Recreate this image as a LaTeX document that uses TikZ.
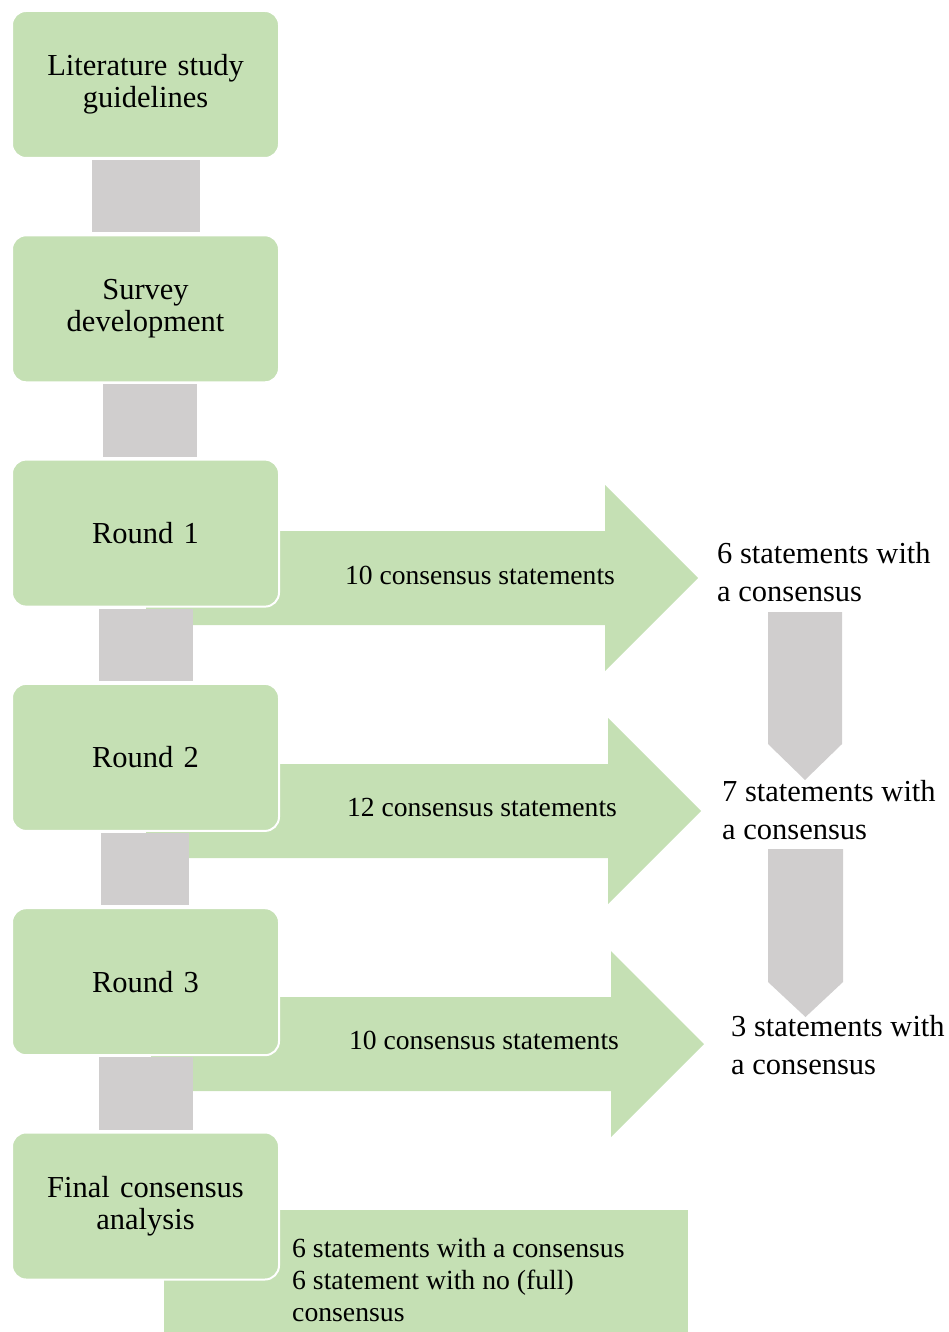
\documentclass[tikz,border=0pt]{standalone}
\usepackage{fontspec}
\setmainfont{Liberation Serif}
\usepackage{xcolor}
\usetikzlibrary{positioning}

\definecolor{leaf}{HTML}{C5E0B4}
\definecolor{ash}{HTML}{D0CECE}

\begin{document}
\begin{tikzpicture}[x=1pt,y=-1pt,node distance=75.3pt]
  \tikzstyle{stage}=[rectangle,rounded corners=14pt,draw=white,line width=2pt,fill=leaf,minimum width=267pt,minimum height=147pt,text width=250pt,align=center,font=\fontsize{30.5}{32}\selectfont]
  \tikzstyle{armlabel}=[inner sep=0pt,font=\fontsize{27.6}{30}\selectfont]
  \tikzstyle{outcome}=[inner sep=0pt,anchor=west,align=left,font=\fontsize{30.5}{38}\selectfont]

  \useasboundingbox (0,0) rectangle (949,1332);

  % Arrows to the outcomes
  \foreach \y/\s/\t in {578/146/698,811/146/701,1044/151/704}
    \fill [leaf] (\s,\y-47) -- (\t-93,\y-47) -- (\t-93,\y-93) -- (\t,\y)
      -- (\t-93,\y+93) -- (\t-93,\y+47) -- (\s,\y+47) -- cycle;
  \fill [leaf] (164,1210) rectangle (688,1340);

  % Stages
  \node [stage] (lit) at (145.5,84.5) {Literature study\\guidelines};
  \node [stage, below=of lit] (survey) {Survey\\development};
  \node [stage, below=of survey] (round1) {Round 1};
  \node [stage, below=of round1] (round2) {Round 2};
  \node [stage, below=of round2] (round3) {Round 3};
  \node [stage, below=of round3] (final) {Final consensus\\analysis};

  % Connectors
  \foreach \a/\b/\l/\r in {lit/survey/-53.5/54.5,survey/round1/-42.5/51.5,round1/round2/-46.5/47.5,round2/round3/-44.5/43.5,round3/final/-46.5/47.5}
    \fill [ash] ([xshift=\l pt,yshift=-1pt]\a.south) rectangle ([xshift=\r pt,yshift=2pt]\b.north);

  % Labels
  \node [armlabel] (l1) at (480,575) {10 consensus statements};
  \node [armlabel] (l2) at (482,807) {12 consensus statements};
  \node [armlabel] (l3) at (484,1040) {10 consensus statements};

  % Outcomes
  \node [outcome] (o1) at (717,572) {6 statements with\\a consensus};
  \node [outcome] (o2) at (722,810) {7 statements with\\a consensus};
  \node [outcome] (o3) at (731,1045) {3 statements with\\a consensus};
  \fill [ash] (768,612) -- (842,612) -- (842,744) -- (805,780) -- (768,744) -- cycle;
  \fill [ash] (768,849) -- (843,849) -- (843,982) -- (805.5,1017) -- (768,982) -- cycle;

  \node [inner sep=0pt, anchor=west, align=left, font=\fontsize{27.7}{32}\selectfont] (res) at (292,1280)
    {6 statements with a consensus\\6 statement with no (full)\\consensus};
\end{tikzpicture}
\end{document}
